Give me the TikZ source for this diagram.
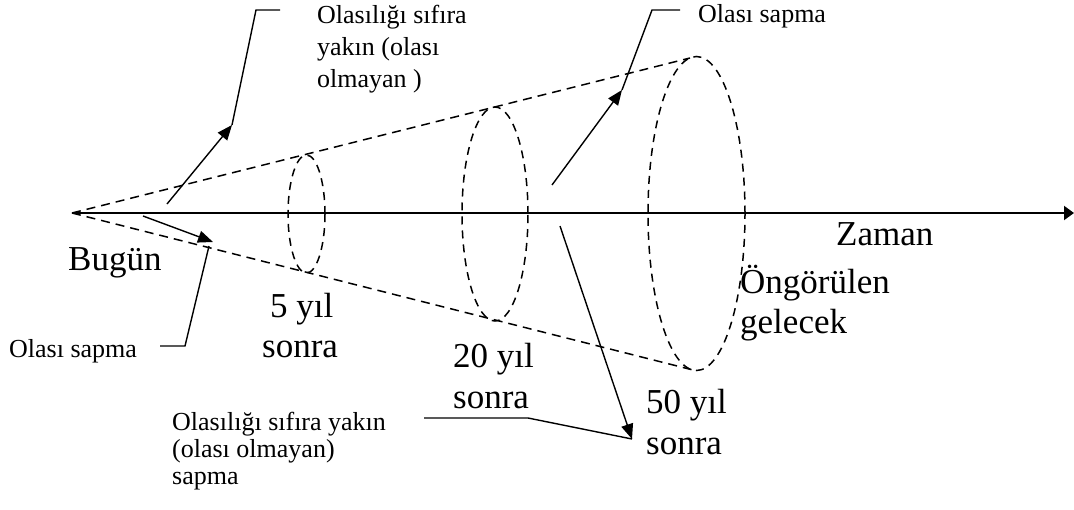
\documentclass[tikz,border=0pt]{standalone}
\usepackage{fontspec}
\setmainfont{Liberation Serif}
\usetikzlibrary{arrows.meta}
\begin{document}
\begin{tikzpicture}[x=1pt,y=-1pt,
  cone/.style={dash pattern=on 9pt off 6pt, line width=1.5pt},
  ring/.style={dash pattern=on 8pt off 6pt, line width=1.5pt},
  conn/.style={line width=1.4pt},
  arr/.style={conn,-{Triangle[length=15pt,width=12pt]}},
  axisline/.style={line width=2pt,-{Triangle[length=10pt,width=14pt]}},
  big/.style={inner sep=0pt, anchor=base west, font=\fontsize{35}{40}\selectfont},
  small/.style={inner sep=0pt, anchor=base west, font=\fontsize{26}{28}\selectfont}]
\useasboundingbox (0,0) rectangle (1074,509);
\fill[white] (0,0) rectangle (1074,509);
% key points
\coordinate (apex) at (72,213);
\coordinate (axisend) at (1074,213);
\coordinate (e1) at (306.5,214);
\coordinate (e2) at (495,214);
\coordinate (e3) at (696.5,213.5);
\coordinate (coneU) at (690,58);
\coordinate (coneL) at (693,370);
% ellipses
\draw[ring] (e1) ellipse [x radius=18.5pt, y radius=59pt];
\draw[ring] (e2) ellipse [x radius=33pt, y radius=107pt];
\draw[ring] (e3) ellipse [x radius=48.5pt, y radius=157pt];
% cone
\draw[cone] (apex) -- (coneU);
\draw[cone] (apex) -- (coneL);
% time axis
\draw[axisline] (apex) -- (axisend);
% arrows and callouts
\coordinate (a1s) at (167,204); \coordinate (a1t) at (232,125);
\coordinate (a1k) at (256,10);  \coordinate (a1e) at (280,10);
\coordinate (a2s) at (143,216); \coordinate (a2t) at (213,242);
\coordinate (a2b) at (209,246); \coordinate (a2k) at (185,346); \coordinate (a2e) at (160,346);
\coordinate (a3s) at (552,185); \coordinate (a3t) at (622,90);
\coordinate (a3k) at (652,10);  \coordinate (a3e) at (680,10);
\coordinate (a4s) at (560,226); \coordinate (a4t) at (632,439);
\coordinate (a4k) at (528,418); \coordinate (a4e) at (424,418);
\draw[arr] (a1s) -- (a1t);
\draw[conn] (a1t) -- (a1k) -- (a1e);
\draw[arr] (a2s) -- (a2t);
\draw[conn] (a2b) -- (a2k) -- (a2e);
\draw[arr] (a3s) -- (a3t);
\draw[conn] (a3t) -- (a3k) -- (a3e);
\draw[arr] (a4s) -- (a4t);
\draw[conn] (a4e) -- (a4k) -- (a4t);
% big labels
\node[big] (bugun) at (68,270) {Bugün};
\node[big] (zaman) at (836,245) {Zaman};
\node[big] (b5a) at (270,317) {5 yıl};
\node[big] (b5b) at (262,357) {sonra};
\node[big] (b20a) at (453,367) {20 yıl};
\node[big] (b20b) at (453,408) {sonra};
\node[big] (b50a) at (646,413) {50 yıl};
\node[big] (b50b) at (646,454) {sonra};
\node[big] (ong1) at (740,293) {Öngörülen};
\node[big] (ong2) at (740,333) {gelecek};
% small labels
\node[small] (t1a) at (317,23) {Olasılığı sıfıra};
\node[small] (t1b) at (317,55) {yakın (olası};
\node[small] (t1c) at (317,87) {olmayan )};
\node[small] (t2) at (698,22) {Olası sapma};
\node[small] (t3) at (9,357) {Olası sapma};
\node[small] (t4a) at (172,430) {Olasılığı sıfıra yakın};
\node[small] (t4b) at (172,457) {(olası olmayan)};
\node[small] (t4c) at (172,484) {sapma};
\end{tikzpicture}
\end{document}
